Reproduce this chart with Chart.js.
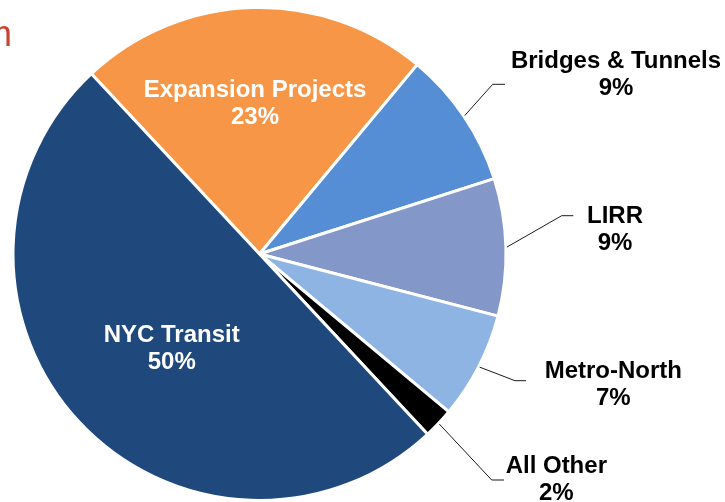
<!DOCTYPE html>
<html>
<head>
<meta charset="utf-8">
<script src="https://cdn.jsdelivr.net/npm/chart.js@4/dist/chart.umd.min.js"></script>
<style>
  html, body { margin: 0; padding: 0; background: #ffffff; }
  #wrap { position: relative; width: 725px; height: 502px; overflow: hidden; }
  #title { position: absolute; right: 713px; top: 13px; font: 36px "Liberation Sans", Arial, sans-serif; color: #C8432F; white-space: nowrap; }
</style>
</head>
<body>
<div id="wrap">
  <canvas id="c" width="725" height="502"></canvas>
  <div id="title">Program</div>
</div>
<script>
const categories = ["Expansion Projects", "Bridges & Tunnels", "LIRR", "Metro-North", "All Other", "NYC Transit"];
const shares = [23, 9, 9, 7, 2, 50];
const pctLabels = ["23%", "9%", "9%", "7%", "2%", "50%"];
const sliceColors = ["#F79646", "#558ED5", "#8497C9", "#8DB4E2", "#000000", "#1F497D"];

// label layout (style only): inside labels have a text centre; outside labels have elbow + text centre
const labelLayout = [
  { inside: true, tx: 255, ty: 96.7 },
  { inside: false, ex: 492.7, ey: 84.3, hx: 505, tx: 616, ty: 68.3 },
  { inside: false, ex: 561.7, ey: 215.7, hx: 573.3, tx: 615, ty: 222.7 },
  { inside: false, ex: 515, ey: 380.7, hx: 526, tx: 613.3, ty: 378.3 },
  { inside: false, ex: 491.7, ey: 480, hx: 504, tx: 556.3, ty: 473.3 },
  { inside: true, tx: 171.7, ty: 341.7 }
];

const FONT = 'bold 24px "Liberation Sans", Arial, sans-serif';
const LINE_GAP = 27;

const labelPlugin = {
  id: 'pieLabels',
  afterDatasetsDraw(chart) {
    const ctx = chart.ctx;
    const meta = chart.getDatasetMeta(0);
    ctx.save();
    ctx.font = FONT;
    ctx.textAlign = 'center';
    ctx.textBaseline = 'alphabetic';
    meta.data.forEach((arc, i) => {
      const L = labelLayout[i];
      const p = arc.getProps(['x', 'y', 'startAngle', 'endAngle', 'outerRadius'], true);
      if (L.inside) {
        ctx.fillStyle = '#ffffff';
      } else {
        const mid = (p.startAngle + p.endAngle) / 2;
        const r = p.outerRadius + 1;
        const sx = p.x + Math.cos(mid) * r;
        const sy = p.y + Math.sin(mid) * r;
        ctx.strokeStyle = '#1a1a1a';
        ctx.lineWidth = 1;
        ctx.beginPath();
        ctx.moveTo(sx, sy);
        ctx.lineTo(L.ex, L.ey);
        ctx.lineTo(L.hx, L.ey);
        ctx.stroke();
        ctx.fillStyle = '#000000';
      }
      ctx.fillText(categories[i], L.tx, L.ty);
      ctx.fillText(pctLabels[i], L.tx, L.ty + LINE_GAP);
    });
    ctx.restore();
  }
};

new Chart(document.getElementById('c'), {
  type: 'pie',
  data: {
    labels: categories,
    datasets: [{
      data: shares,
      backgroundColor: sliceColors,
      borderColor: '#ffffff',
      borderWidth: 3,
      hoverOffset: 0
    }]
  },
  options: {
    responsive: false,
    animation: false,
    rotation: -43,
    layout: { padding: { left: 11, right: 217, top: 6, bottom: 0 } },
    plugins: {
      legend: { display: false },
      tooltip: { enabled: false },
      title: { display: false }
    }
  },
  plugins: [labelPlugin]
});
</script>
</body>
</html>
